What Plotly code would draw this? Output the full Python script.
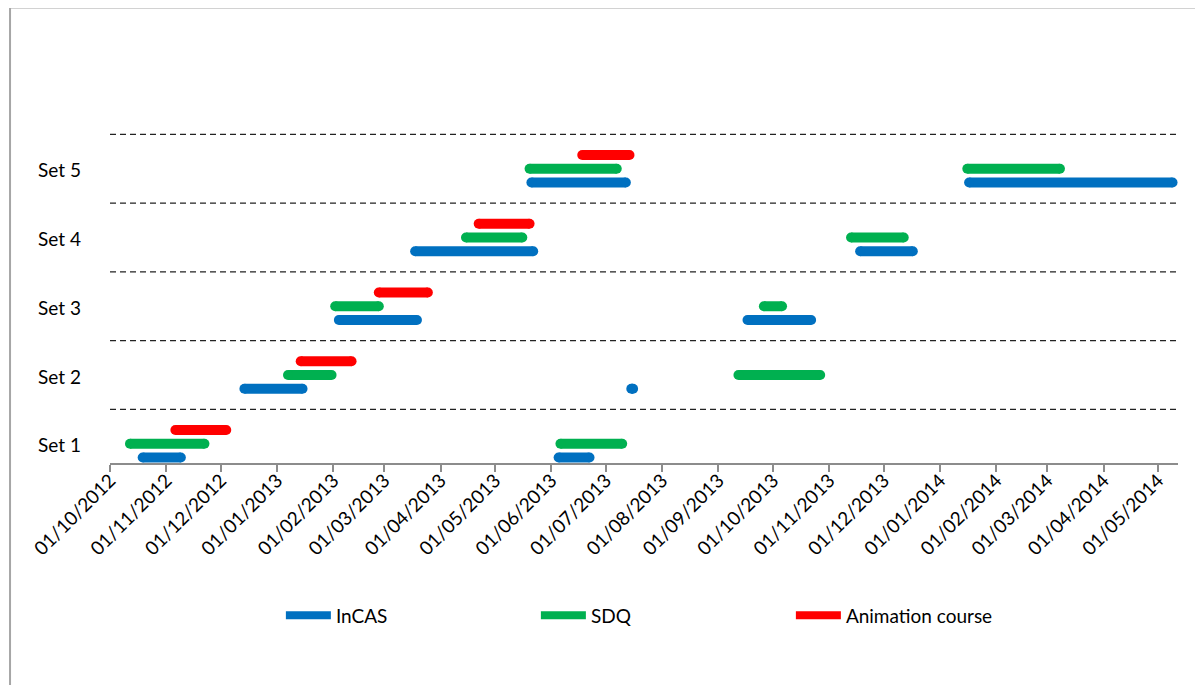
import plotly.graph_objects as go

# ---------------- data ----------------
sets = ["Set 1", "Set 2", "Set 3", "Set 4", "Set 5"]
set_index = [1, 2, 3, 4, 5]

series_names = ["InCAS", "SDQ", "Animation course"]
series_colors = ["#0070C0", "#00B050", "#FF0000"]
series_offsets = [0.0, 0.2, 0.4]

# InCAS periods: (set number, start, end)
incas_set = [1, 1, 2, 2, 3, 3, 4, 4, 5, 5]
incas_start = ["2012-10-19", "2013-06-05", "2012-12-14", "2013-07-15", "2013-02-04",
               "2013-09-17", "2013-03-18", "2013-11-18", "2013-05-21", "2014-01-17"]
incas_end = ["2012-11-09", "2013-06-22", "2013-01-15", "2013-07-16", "2013-03-19",
             "2013-10-22", "2013-05-22", "2013-12-17", "2013-07-12", "2014-05-09"]

# SDQ periods
sdq_set = [1, 1, 2, 2, 3, 3, 4, 4, 5, 5]
sdq_start = ["2012-10-12", "2013-06-06", "2013-01-07", "2013-09-12", "2013-02-02",
             "2013-09-26", "2013-04-15", "2013-11-13", "2013-05-20", "2014-01-16"]
sdq_end = ["2012-11-22", "2013-07-10", "2013-01-31", "2013-10-27", "2013-02-26",
           "2013-10-06", "2013-05-16", "2013-12-12", "2013-07-07", "2014-03-08"]

# Animation course periods
anim_set = [1, 2, 3, 4, 5]
anim_start = ["2012-11-06", "2013-01-14", "2013-02-26", "2013-04-22", "2013-06-18"]
anim_end = ["2012-12-04", "2013-02-11", "2013-03-25", "2013-05-20", "2013-07-14"]

x_range = ["2012-10-01", "2014-05-12"]
label_offset = 0.17
separator_offset = 0.7

series_data = [
    (incas_set, incas_start, incas_end),
    (sdq_set, sdq_start, sdq_end),
    (anim_set, anim_start, anim_end),
]

FONT = "Lato"
LW = 10

fig = go.Figure()

for name, color, off, (s_set, s_start, s_end) in zip(series_names, series_colors,
                                                      series_offsets, series_data):
    xs, ys = [], []
    for k, a, b in zip(s_set, s_start, s_end):
        xs += [a, b, None]
        ys += [k + off, k + off, None]
    fig.add_trace(go.Scatter(
        x=xs, y=ys, mode="lines+markers", name=name,
        line=dict(color=color, width=LW),
        marker=dict(color=color, size=LW, line=dict(width=0)),
        showlegend=False, hoverinfo="skip", cliponaxis=False,
    ))
    # legend entry
    fig.add_trace(go.Scatter(
        x=[None], y=[None], mode="lines", name=name,
        line=dict(color=color, width=8),
        showlegend=True,
    ))

# dashed separators
for k in set_index:
    fig.add_shape(type="line", xref="x domain", yref="y",
                  x0=0, x1=1, y0=k + separator_offset, y1=k + separator_offset,
                  line=dict(color="#222222", width=1.4, dash="6px,4px"), layer="below")

# outer frame
fig.add_shape(type="rect", xref="paper", yref="paper",
              x0=-0.0936, x1=1.05, y0=-0.7, y1=1.2548,
              line=dict(color="#A6A6A6", width=2), fillcolor="rgba(0,0,0,0)")

fig.update_layout(
    width=1195, height=677, autosize=False,
    margin=dict(l=102, r=25, t=92, b=222),
    paper_bgcolor="white", plot_bgcolor="white",
    font=dict(family=FONT, color="black", size=19),
    legend=dict(orientation="h", x=0.160, xanchor="left", y=-0.42, yanchor="middle",
                font=dict(family=FONT, size=19, color="black"),
                entrywidth=195, entrywidthmode="pixels", itemwidth=45,
                bgcolor="rgba(0,0,0,0)", traceorder="normal"),
    xaxis=dict(
        type="date", range=x_range, tick0="2012-10-01", dtick="M1",
        tickformat="%d/%m/%Y", tickangle=-45, automargin=False,
        showgrid=False, zeroline=False,
        showline=True, linecolor="#8C8C8C", linewidth=2,
        ticks="outside", ticklen=7, tickwidth=1.5, tickcolor="#8C8C8C",
        ticklabelstandoff=-10,
        tickfont=dict(family=FONT, size=19, color="black"),
    ),
    yaxis=dict(
        range=[0.92, 6.2], tickmode="array", automargin=False,
        tickvals=[k + label_offset for k in set_index], ticktext=sets,
        showgrid=False, zeroline=False, showline=False, ticks="",
        ticklabelstandoff=28,
        tickfont=dict(family=FONT, size=19, color="black"),
    ),
)

fig.write_html("out.html")
